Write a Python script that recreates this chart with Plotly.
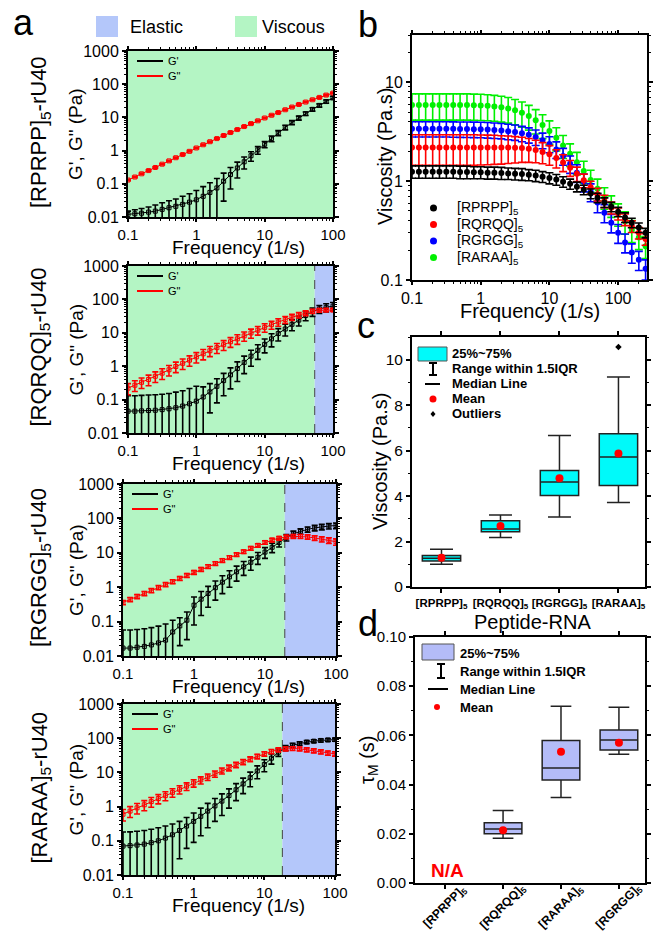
import plotly.graph_objects as go

# ---------------- DATA ----------------
FREQ = [0.1, 0.126, 0.158, 0.2, 0.251, 0.316, 0.398, 0.501, 0.631, 0.794,
        1, 1.26, 1.58, 2, 2.51, 3.16, 3.98, 5.01, 6.31, 7.94,
        10, 12.6, 15.8, 20, 25.1, 31.6, 39.8, 50.1, 63.1, 79.4, 100]
FREQ_B = [0.1, 0.126, 0.158, 0.2, 0.251, 0.316, 0.398, 0.501, 0.631, 0.794,
          1, 1.26, 1.58, 2, 2.51, 3.16, 3.98, 5.01, 6.31, 7.94,
          10, 12.6, 15.8, 20, 25.1, 31.6, 39.8, 50.1, 63.1, 79.4, 100,
          126, 158, 200, 251]

# panel a : G' and G'' (Pa), mean and sd
A1_GP = [0.012, 0.0125, 0.013, 0.014, 0.015, 0.017, 0.019, 0.021, 0.024, 0.028,
         0.033, 0.042, 0.055, 0.075, 0.12, 0.19, 0.3, 0.46, 0.7, 1.05,
         1.55, 2.3, 3.4, 5.0, 7.0, 9.6, 13, 17.5, 23, 30, 39]
A1_GP_SD = [0.003, 0.004, 0.005, 0.006, 0.008, 0.01, 0.012, 0.014, 0.018, 0.022,
            0.03, 0.04, 0.052, 0.07, 0.09, 0.12, 0.15, 0.18, 0.22, 0.27,
            0.33, 0.45, 0.6, 0.8, 1.0, 1.3, 1.6, 2.0, 2.6, 3.4, 4.4]
A1_GPP = [0.13, 0.16, 0.2, 0.25, 0.31, 0.39, 0.49, 0.61, 0.76, 0.95,
          1.2, 1.5, 1.85, 2.3, 2.85, 3.5, 4.3, 5.3, 6.5, 7.9,
          9.6, 11.6, 14, 17, 20.5, 24.5, 29, 34, 40, 47, 54]
A1_GPP_SD = [0.007, 0.008, 0.01, 0.012, 0.015, 0.019, 0.024, 0.03, 0.037, 0.046,
             0.058, 0.072, 0.09, 0.11, 0.14, 0.17, 0.21, 0.26, 0.32, 0.39,
             0.48, 0.58, 0.7, 0.85, 1.0, 1.2, 1.45, 1.7, 2.0, 2.35, 2.7]

A2_GP = [0.045, 0.045, 0.046, 0.047, 0.048, 0.05, 0.053, 0.057, 0.064, 0.075,
         0.09, 0.12, 0.17, 0.25, 0.37, 0.55, 0.85, 1.3, 2.0, 3.0,
         4.5, 6.6, 9.5, 13, 18, 24, 33, 43, 52, 58, 63]
A2_GP_SD = [0.085, 0.085, 0.088, 0.09, 0.092, 0.095, 0.1, 0.11, 0.12, 0.14,
            0.16, 0.12, 0.13, 0.17, 0.24, 0.34, 0.5, 0.7, 1.0, 1.4,
            2.0, 2.8, 3.8, 5.0, 6.5, 8.0, 10, 12, 14, 16, 18]
A2_GPP = [0.22, 0.27, 0.33, 0.4, 0.5, 0.62, 0.78, 0.98, 1.22, 1.52,
          1.9, 2.35, 2.9, 3.6, 4.4, 5.4, 6.6, 8.1, 9.9, 12,
          14.5, 17.5, 21, 25, 29.5, 34, 39, 44, 47, 48, 48]
A2_GPP_SD = [0.08, 0.095, 0.115, 0.14, 0.175, 0.22, 0.27, 0.34, 0.42, 0.52,
             0.65, 0.8, 0.97, 1.2, 1.45, 1.75, 2.1, 2.5, 3.0, 3.5,
             4.1, 4.7, 5.3, 5.8, 6.2, 6.4, 6.4, 6.2, 5.8, 5.3, 4.8]

A3_GP = [0.017, 0.017, 0.018, 0.019, 0.021, 0.024, 0.029, 0.05, 0.075, 0.11,
         0.3, 0.45, 0.66, 0.97, 1.4, 2.0, 2.8, 3.9, 5.3, 7.4,
         10.5, 14.5, 20, 28, 36, 42, 48, 53, 57, 60, 62]
A3_GP_SD = [0.04, 0.04, 0.041, 0.043, 0.046, 0.05, 0.056, 0.06, 0.055, 0.08,
            0.22, 0.3, 0.4, 0.55, 0.75, 1.0, 1.3, 1.7, 2.2, 2.8,
            3.6, 4.4, 5.2, 6.0, 6.8, 7.5, 8.5, 9.5, 10.5, 11, 11.5]
A3_GPP = [0.36, 0.44, 0.54, 0.66, 0.8, 0.98, 1.2, 1.45, 1.8, 2.2,
          2.7, 3.3, 4.0, 4.9, 6.0, 7.3, 8.9, 10.8, 13.5, 16.5,
          20, 23.5, 26.5, 29, 30, 30, 29, 27, 25, 23, 21]
A3_GPP_SD = [0.05, 0.06, 0.075, 0.09, 0.11, 0.13, 0.16, 0.19, 0.23, 0.28,
             0.34, 0.41, 0.5, 0.6, 0.72, 0.88, 1.05, 1.3, 1.6, 1.9,
             2.3, 2.7, 3.1, 3.5, 3.8, 4.0, 4.2, 4.3, 4.4, 4.4, 4.4]

A4_GP = [0.07, 0.072, 0.075, 0.08, 0.088, 0.1, 0.12, 0.15, 0.2, 0.27,
         0.37, 0.52, 0.74, 1.05, 1.45, 2.1, 3.1, 4.6, 7.0, 11,
         17, 26, 39, 52, 62, 70, 77, 82, 86, 89, 91]
A4_GP_SD = [0.11, 0.11, 0.115, 0.12, 0.13, 0.14, 0.15, 0.16, 0.17, 0.21,
            0.28, 0.38, 0.5, 0.68, 0.9, 1.2, 1.6, 2.2, 3.2, 4.5,
            6.5, 8.5, 9.5, 9.0, 8.5, 8.0, 8.0, 8.0, 8.5, 9.0, 9.5]
A4_GPP = [0.6, 0.74, 0.92, 1.13, 1.4, 1.72, 2.1, 2.6, 3.2, 3.95,
          4.9, 6.0, 7.4, 9.1, 11.2, 13.7, 16.7, 20.3, 24.5, 29.5,
          35, 41, 46, 49, 50, 49, 46, 43, 40, 37, 35]
A4_GPP_SD = [0.22, 0.26, 0.31, 0.37, 0.44, 0.52, 0.62, 0.73, 0.86, 1.0,
             1.2, 1.4, 1.6, 1.9, 2.2, 2.6, 3.0, 3.5, 4.0, 4.6,
             5.2, 5.8, 6.2, 6.4, 6.4, 6.3, 6.1, 5.8, 5.5, 5.2, 5.0]

A_LABELS = ["[RPRPP]<sub>5</sub>-rU40", "[RQRQQ]<sub>5</sub>-rU40",
            "[RGRGG]<sub>5</sub>-rU40", "[RARAA]<sub>5</sub>-rU40"]
CROSSOVER = [None, 54, 19, 18]

# panel b : viscosity (Pa.s)
B_NAMES = ["[RPRPP]<sub>5</sub>", "[RQRQQ]<sub>5</sub>", "[RGRGG]<sub>5</sub>", "[RARAA]<sub>5</sub>"]
B_RPRPP = [1.25, 1.25, 1.25, 1.25, 1.25, 1.25, 1.25, 1.24, 1.24, 1.23,
           1.23, 1.22, 1.22, 1.21, 1.2, 1.19, 1.18, 1.16, 1.14, 1.11,
           1.08, 1.04, 0.99, 0.94, 0.88, 0.82, 0.75, 0.68, 0.61, 0.55,
           0.49, 0.43, 0.38, 0.34, 0.3]
B_RPRPP_SD = [0.18, 0.18, 0.18, 0.18, 0.18, 0.18, 0.18, 0.18, 0.18, 0.17,
              0.17, 0.17, 0.17, 0.17, 0.16, 0.16, 0.16, 0.15, 0.15, 0.14,
              0.14, 0.13, 0.12, 0.11, 0.1, 0.09, 0.085, 0.075, 0.068, 0.06,
              0.054, 0.048, 0.042, 0.037, 0.033]
B_RQRQQ = [2.2, 2.2, 2.2, 2.2, 2.2, 2.2, 2.2, 2.2, 2.2, 2.2,
           2.2, 2.2, 2.2, 2.19, 2.19, 2.18, 2.17, 2.13, 2.07, 1.98,
           1.87, 1.72, 1.55, 1.37, 1.19, 1.02, 0.87, 0.74, 0.63, 0.54,
           0.47, 0.41, 0.35, 0.3, 0.26]
B_RQRQQ_SD = [0.75, 0.75, 0.75, 0.75, 0.75, 0.75, 0.75, 0.75, 0.75, 0.75,
              0.74, 0.73, 0.72, 0.7, 0.68, 0.65, 0.62, 0.58, 0.53, 0.48,
              0.42, 0.36, 0.3, 0.25, 0.2, 0.16, 0.13, 0.11, 0.09, 0.075,
              0.065, 0.055, 0.047, 0.04, 0.035]
B_RGRGG = [3.4, 3.4, 3.4, 3.4, 3.4, 3.4, 3.39, 3.38, 3.37, 3.36,
           3.35, 3.33, 3.3, 3.26, 3.2, 3.15, 3.05, 2.95, 2.8, 2.6,
           2.38, 2.1, 1.8, 1.5, 1.22, 0.98, 0.78, 0.61, 0.48, 0.38,
           0.3, 0.24, 0.19, 0.16, 0.13]
B_RGRGG_SD = [0.6, 0.6, 0.6, 0.6, 0.6, 0.6, 0.6, 0.6, 0.6, 0.6,
              0.6, 0.6, 0.59, 0.58, 0.57, 0.56, 0.54, 0.52, 0.5, 0.47,
              0.44, 0.4, 0.35, 0.3, 0.25, 0.2, 0.16, 0.13, 0.1, 0.08,
              0.065, 0.052, 0.042, 0.035, 0.03]
B_RARAA = [5.9, 5.9, 5.9, 5.9, 5.9, 5.9, 5.9, 5.9, 5.9, 5.88,
           5.85, 5.8, 5.72, 5.6, 5.45, 5.22, 4.93, 4.57, 4.15, 3.7,
           3.22, 2.75, 2.3, 1.9, 1.56, 1.27, 1.03, 0.84, 0.69, 0.57,
           0.47, 0.39, 0.32, 0.27, 0.22]
B_RARAA_SD = [1.75, 1.75, 1.75, 1.75, 1.75, 1.75, 1.75, 1.75, 1.75, 1.74,
              1.73, 1.71, 1.68, 1.64, 1.58, 1.5, 1.4, 1.28, 1.15, 1.0,
              0.86, 0.73, 0.6, 0.49, 0.4, 0.32, 0.26, 0.21, 0.17, 0.14,
              0.12, 0.1, 0.08, 0.067, 0.055]

# panel c : viscosity box stats
C_KEYS = ["RPRPP", "RQRQQ", "RGRGG", "RARAA"]
C_TICKS = ["<b>[RPRPP]<sub>5</sub></b>", "<b>[RQRQQ]<sub>5</sub></b>",
           "<b>[RGRGG]<sub>5</sub></b>", "<b>[RARAA]<sub>5</sub></b>"]
C_Q1 = [1.14, 2.43, 4.03, 4.47]
C_MED = [1.26, 2.55, 4.62, 5.72]
C_Q3 = [1.39, 2.92, 5.13, 6.74]
C_LO = [1.0, 2.18, 3.08, 3.72]
C_HI = [1.66, 3.17, 6.67, 9.24]
C_MEAN = [1.29, 2.68, 4.79, 5.87]
C_OUT_X = ["RARAA"]
C_OUT_Y = [10.56]

# panel d : tau_M box stats
D_KEYS = ["RPRPP", "RQRQQ", "RARAA", "RGRGG"]
D_TICKS = ["<b>[RPRPP]<sub>5</sub></b>", "<b>[RQRQQ]<sub>5</sub></b>",
           "<b>[RARAA]<sub>5</sub></b>", "<b>[RGRGG]<sub>5</sub></b>"]
D_BOX_KEYS = ["RQRQQ", "RARAA", "RGRGG"]
D_Q1 = [0.0200, 0.0419, 0.0541]
D_MED = [0.0220, 0.0467, 0.0581]
D_Q3 = [0.0245, 0.0579, 0.0622]
D_LO = [0.0182, 0.0348, 0.0523]
D_HI = [0.0295, 0.0718, 0.0714]
D_MEAN = [0.0214, 0.0534, 0.0570]

# ---------------- STYLE / LAYOUT ----------------
W, H = 654, 937
FONT = "Liberation Sans, Arial, Helvetica, sans-serif"
ELASTIC = "rgb(180,199,250)"
VISCOUS = "rgb(180,245,196)"
CYAN = "rgb(0,250,250)"
LAV = "rgb(180,188,248)"
B_COLORS = ["black", "red", "blue", "rgb(0,240,0)"]


def px(x):
    return x / W


def py(y):
    return 1 - y / H


def ann(text, x, y, size, xanchor="center", yanchor="middle", angle=0, color="black"):
    return dict(text=text, x=px(x), y=py(y), xref="paper", yref="paper",
                xanchor=xanchor, yanchor=yanchor, showarrow=False, textangle=angle,
                font=dict(family=FONT, size=size, color=color))


def log_minor(e0, e1):
    return [m * 10 ** e for e in range(e0, e1) for m in range(2, 10)]


def axis_style(**kw):
    d = dict(showline=True, linecolor="black", linewidth=2, mirror="allticks",
             ticks="outside", ticklen=4, tickwidth=1.5, tickcolor="black",
             showgrid=False, zeroline=False, automargin=False,
             tickfont=dict(family=FONT, size=16, color="black"))
    d.update(kw)
    return d


A_BOX = [(128, 333, 51, 217), (128, 333, 266, 433), (123, 336, 484, 656), (123, 335, 704, 875)]
B_BOX = (412, 647, 35, 280)
C_BOX = (412, 645, 337, 587)
D_BOX = (415, 645, 637, 883)

fig = go.Figure()
layout = dict(width=W, height=H, margin=dict(l=0, r=0, t=0, b=0, pad=0), autosize=False,
              paper_bgcolor="white", plot_bgcolor="rgba(0,0,0,0)", showlegend=False,
              font=dict(family=FONT, color="black"))
shapes = []
annotations = []

A_GP = [A1_GP, A2_GP, A3_GP, A4_GP]
A_GP_SD = [A1_GP_SD, A2_GP_SD, A3_GP_SD, A4_GP_SD]
A_GPP = [A1_GPP, A2_GPP, A3_GPP, A4_GPP]
A_GPP_SD = [A1_GPP_SD, A2_GPP_SD, A3_GPP_SD, A4_GPP_SD]

minor_a_x = dict(tickvals=log_minor(-1, 2), ticks="outside", ticklen=2, tickwidth=1, tickcolor="black")
minor_a_y = dict(tickvals=log_minor(-2, 3), ticks="outside", ticklen=2, tickwidth=1, tickcolor="black")

for i in range(4):
    n = i + 1
    xs = "" if n == 1 else str(n)
    x0, x1, y0, y1 = A_BOX[i]
    layout["xaxis" + xs] = axis_style(type="log", range=[-1, 2], domain=[px(x0), px(x1)],
                                      anchor="y" + xs, tickvals=[0.1, 1, 10, 100], ticklen=3,
                                      ticktext=["0.1", "1", "10", "100"], minor=minor_a_x,
                                      tickfont=dict(family=FONT, size=15, color="black"))
    layout["yaxis" + xs] = axis_style(type="log", range=[-2, 3], domain=[py(y1), py(y0)],
                                      anchor="x" + xs,
                                      tickvals=[0.01, 0.1, 1, 10, 100, 1000],
                                      ticktext=["0.01", "0.1", "1", "10", "100", "1000"],
                                      minor=minor_a_y)
    cx = CROSSOVER[i]
    xr, yr = "x" + xs, "y" + xs + " domain"
    if cx is None:
        shapes.append(dict(type="rect", xref=xr, yref=yr, x0=0.1, x1=100, y0=0, y1=1,
                           fillcolor=VISCOUS, line=dict(width=0), layer="below"))
    else:
        shapes.append(dict(type="rect", xref=xr, yref=yr, x0=0.1, x1=cx, y0=0, y1=1,
                           fillcolor=VISCOUS, line=dict(width=0), layer="below"))
        shapes.append(dict(type="rect", xref=xr, yref=yr, x0=cx, x1=100, y0=0, y1=1,
                           fillcolor=ELASTIC, line=dict(width=0), layer="below"))
        shapes.append(dict(type="line", xref=xr, yref=yr, x0=cx, x1=cx, y0=0, y1=1,
                           line=dict(color="#444", width=1, dash="dash"), layer="below"))
    fig.add_trace(go.Scatter(x=FREQ, y=A_GP[i], mode="lines+markers", xaxis="x" + xs, yaxis="y" + xs,
                             line=dict(color="black", width=1),
                             marker=dict(symbol="square-open", size=4, color="black",
                                         line=dict(width=1, color="black")),
                             error_y=dict(type="data", array=A_GP_SD[i], color="black",
                                          thickness=1.6, width=3), hoverinfo="skip"))
    fig.add_trace(go.Scatter(x=FREQ, y=A_GPP[i], mode="lines+markers", xaxis="x" + xs, yaxis="y" + xs,
                             line=dict(color="red", width=1),
                             marker=dict(symbol="square-open", size=4, color="red",
                                         line=dict(width=1, color="red")),
                             error_y=dict(type="data", array=A_GPP_SD[i], color="red",
                                          thickness=1.6, width=3), hoverinfo="skip"))
    # inner legend
    for k, (lab, col) in enumerate([("G'", "black"), ('G"', "red")]):
        yy = y0 + 10 + 15 * k
        shapes.append(dict(type="line", xref="paper", yref="paper", x0=px(x0 + 9), x1=px(x0 + 35),
                           y0=py(yy), y1=py(yy), line=dict(color=col, width=2)))
        annotations.append(ann(lab, x0 + 38, yy, 11, xanchor="left"))
    # titles
    annotations.append(ann("G', G\" (Pa)", 76, (y0 + y1) / 2, 19, angle=-90))
    annotations.append(ann(A_LABELS[i], 40, (y0 + y1) / 2 - 2, 22, angle=-90))
    annotations.append(ann("Frequency (1/s)", 238, y1 + 30, 19))

# panel b
bx0, bx1, by0, by1 = B_BOX
layout["xaxis5"] = axis_style(type="log", range=[-1, 2.42], domain=[px(bx0), px(bx1)], anchor="y5",
                              tickvals=[0.1, 1, 10, 100], ticktext=["0.1", "1", "10", "100"],
                              ticklen=3,
                              minor=dict(tickvals=log_minor(-1, 3), ticks="outside", ticklen=2,
                                         tickwidth=1, tickcolor="black"))
layout["yaxis5"] = axis_style(type="log", range=[-1, 1.48], domain=[py(by1), py(by0)], anchor="x5",
                              tickvals=[0.1, 1, 10], ticktext=["0.1", "1", "10"],
                              minor=dict(tickvals=log_minor(-1, 2), ticks="outside", ticklen=2,
                                         tickwidth=1, tickcolor="black"))
B_SERIES = [B_RPRPP, B_RQRQQ, B_RGRGG, B_RARAA]
B_SD = [B_RPRPP_SD, B_RQRQQ_SD, B_RGRGG_SD, B_RARAA_SD]
for j in [3, 2, 1, 0]:
    fig.add_trace(go.Scatter(x=FREQ_B, y=B_SERIES[j], mode="markers", xaxis="x5", yaxis="y5",
                             marker=dict(color=B_COLORS[j], size=6),
                             error_y=dict(type="data", array=B_SD[j], color=B_COLORS[j],
                                          thickness=1.6, width=4), hoverinfo="skip"))
for j in range(4):
    yy = 208 + 16.5 * j
    shapes.append(dict(type="circle", xref="paper", yref="paper", x0=px(430), x1=px(437),
                       y0=py(yy + 3.5), y1=py(yy - 3.5), fillcolor=B_COLORS[j],
                       line=dict(color=B_COLORS[j], width=0)))
    annotations.append(ann(B_NAMES[j], 455, yy, 14, xanchor="left"))
annotations.append(ann("Frequency (1/s)", 530, 311, 20))
annotations.append(ann("Viscosity (Pa.s)", 385, 157, 20, angle=-90))

# panel c
cx0, cx1, cy0, cy1 = C_BOX
layout["xaxis6"] = axis_style(type="category", categoryorder="array", categoryarray=C_KEYS,
                              range=[-0.5, 3.45], domain=[px(cx0), px(cx1)], anchor="y6",
                              tickvals=C_KEYS, ticktext=C_TICKS, tickangle=0,
                              tickfont=dict(family=FONT, size=11.5, color="black"))
layout["yaxis6"] = axis_style(range=[0, 11], domain=[py(cy1), py(cy0)], anchor="x6",
                              tickvals=[0, 2, 4, 6, 8, 10],
                              tickfont=dict(family=FONT, size=15.5, color="black"),
                              minor=dict(dtick=1, ticks="outside", ticklen=2, tickwidth=1,
                                         tickcolor="black"))
fig.add_trace(go.Box(x=C_KEYS, q1=C_Q1, median=C_MED, q3=C_Q3, lowerfence=C_LO, upperfence=C_HI,
                     xaxis="x6", yaxis="y6", fillcolor=CYAN, line=dict(color="#222", width=1.5),
                     width=0.65, whiskerwidth=0.6, boxpoints=False, hoverinfo="skip"))
fig.add_trace(go.Scatter(x=C_KEYS, y=C_MEAN, mode="markers", xaxis="x6", yaxis="y6",
                         marker=dict(color="red", size=8), hoverinfo="skip"))
fig.add_trace(go.Scatter(x=C_OUT_X, y=C_OUT_Y, mode="markers", xaxis="x6", yaxis="y6",
                         marker=dict(color="black", size=5, symbol="diamond"), hoverinfo="skip"))
annotations.append(ann("Viscosity (Pa.s)", 380, 462, 20, angle=-90))
annotations.append(ann("Peptide-RNA", 532, 622, 20))

# c legend
shapes.append(dict(type="rect", xref="paper", yref="paper", x0=px(418), x1=px(447), y0=py(361), y1=py(347),
                   fillcolor=CYAN, line=dict(color="#555", width=1)))
shapes.append(dict(type="line", xref="paper", yref="paper", x0=px(433), x1=px(433), y0=py(363), y1=py(375),
                   line=dict(color="black", width=2)))
shapes.append(dict(type="line", xref="paper", yref="paper", x0=px(429), x1=px(437), y0=py(363), y1=py(363),
                   line=dict(color="black", width=2)))
shapes.append(dict(type="line", xref="paper", yref="paper", x0=px(429), x1=px(437), y0=py(375), y1=py(375),
                   line=dict(color="black", width=2)))
shapes.append(dict(type="line", xref="paper", yref="paper", x0=px(425), x1=px(440), y0=py(384), y1=py(384),
                   line=dict(color="black", width=2)))
shapes.append(dict(type="circle", xref="paper", yref="paper", x0=px(429.5), x1=px(436.5), y0=py(402.5),
                   y1=py(395.5), fillcolor="red", line=dict(color="red", width=0)))
shapes.append(dict(type="path", xref="paper", yref="paper",
                   path="M %f %f L %f %f L %f %f L %f %f Z" % (px(433), py(411), px(435.5), py(414),
                                                              px(433), py(417), px(430.5), py(414)),
                   fillcolor="black", line=dict(color="black", width=0)))
for k, t in enumerate(["25%~75%", "Range within 1.5IQR", "Median Line", "Mean", "Outliers"]):
    annotations.append(ann("<b>" + t + "</b>", 450, 353 + 15.2 * k, 13, xanchor="left"))

# panel d
dx0, dx1, dy0, dy1 = D_BOX
layout["xaxis7"] = axis_style(type="category", categoryorder="array", categoryarray=D_KEYS,
                              range=[-0.52, 3.45], domain=[px(dx0), px(dx1)], anchor="y7",
                              tickvals=D_KEYS, showticklabels=False)
layout["yaxis7"] = axis_style(range=[0, 0.1], domain=[py(dy1), py(dy0)], anchor="x7",
                              tickvals=[0, 0.02, 0.04, 0.06, 0.08, 0.1],
                              ticktext=["0.00", "0.02", "0.04", "0.06", "0.08", "0.10"],
                              tickfont=dict(family=FONT, size=15, color="black"),
                              minor=dict(dtick=0.01, ticks="outside", ticklen=2, tickwidth=1,
                                         tickcolor="black"))
fig.add_trace(go.Box(x=D_BOX_KEYS, q1=D_Q1, median=D_MED, q3=D_Q3, lowerfence=D_LO, upperfence=D_HI,
                     xaxis="x7", yaxis="y7", fillcolor=LAV, line=dict(color="#222", width=1.5),
                     width=0.65, whiskerwidth=0.55, boxpoints=False, hoverinfo="skip"))
fig.add_trace(go.Scatter(x=D_BOX_KEYS, y=D_MEAN, mode="markers", xaxis="x7", yaxis="y7",
                         marker=dict(color="red", size=8), hoverinfo="skip"))
# rotated category labels centred under their ticks
for idx, lab in enumerate(D_TICKS):
    annotations.append(dict(text=lab, x=idx, y=py(907), xref="x7", yref="paper",
                            xanchor="center", yanchor="middle", showarrow=False, textangle=-45,
                            font=dict(family=FONT, size=12, color="black")))
annotations.append(ann("τ<sub>M</sub> (s)", 368, 760, 20, angle=-90))
annotations.append(ann("<b>N/A</b>", 447, 870, 19, color="red"))

# d legend
shapes.append(dict(type="rect", xref="paper", yref="paper", x0=px(422), x1=px(454), y0=py(660), y1=py(644),
                   fillcolor=LAV, line=dict(color="#555", width=1)))
shapes.append(dict(type="line", xref="paper", yref="paper", x0=px(441), x1=px(441), y0=py(664), y1=py(678),
                   line=dict(color="black", width=2)))
shapes.append(dict(type="line", xref="paper", yref="paper", x0=px(437), x1=px(445), y0=py(664), y1=py(664),
                   line=dict(color="black", width=2)))
shapes.append(dict(type="line", xref="paper", yref="paper", x0=px(437), x1=px(445), y0=py(678), y1=py(678),
                   line=dict(color="black", width=2)))
shapes.append(dict(type="line", xref="paper", yref="paper", x0=px(428), x1=px(448), y0=py(689), y1=py(689),
                   line=dict(color="black", width=2)))
shapes.append(dict(type="circle", xref="paper", yref="paper", x0=px(434), x1=px(440), y0=py(710),
                   y1=py(704), fillcolor="red", line=dict(color="red", width=0)))
for k, t in enumerate(["25%~75%", "Range within 1.5IQR", "Median Line", "Mean"]):
    annotations.append(ann("<b>" + t + "</b>", 458, 653 + 18 * k, 13, xanchor="left"))

# top legend and panel letters
shapes.append(dict(type="rect", xref="paper", yref="paper", x0=px(96), x1=px(118), y0=py(37), y1=py(16),
                   fillcolor=ELASTIC, line=dict(width=0)))
shapes.append(dict(type="rect", xref="paper", yref="paper", x0=px(235), x1=px(257), y0=py(37), y1=py(16),
                   fillcolor=VISCOUS, line=dict(width=0)))
annotations.append(ann("Elastic", 128, 27, 18, xanchor="left"))
annotations.append(ann("Viscous", 260, 27, 18, xanchor="left"))
annotations.append(ann("a", 23, 23, 36))
annotations.append(ann("b", 368, 24, 36))
annotations.append(ann("c", 366, 325, 36))
annotations.append(ann("d", 368, 623, 36))

layout["shapes"] = shapes
layout["annotations"] = annotations
fig.update_layout(**layout)
fig.write_html("out.html", config={"displayModeBar": False},
               post_script="document.body.style.margin='0px';document.body.style.overflow='hidden';")
